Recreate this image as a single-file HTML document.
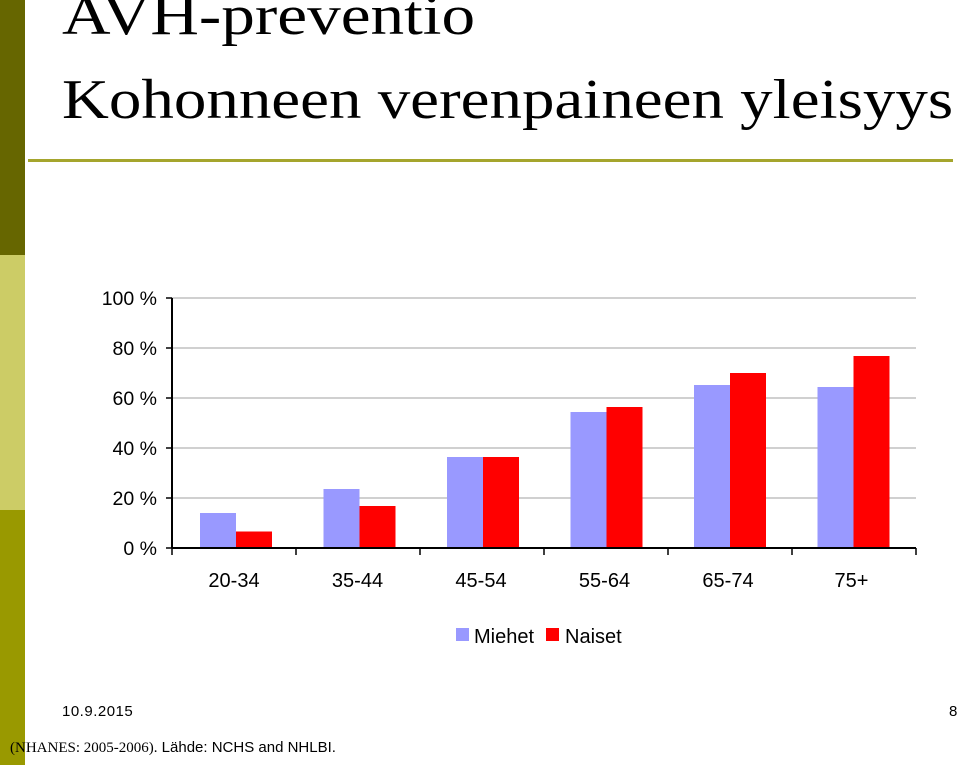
<!DOCTYPE html>
<html><head><meta charset="utf-8"><style>
body{margin:0;width:960px;height:765px;overflow:hidden;background:#fff;position:relative;font-family:"Liberation Sans",sans-serif}
.t{position:absolute;white-space:nowrap}
</style></head><body>
<div style="position:absolute;left:0;top:0;width:25px;height:255px;background:#666600"></div>
<div style="position:absolute;left:0;top:255px;width:25px;height:255px;background:#cccc66"></div>
<div style="position:absolute;left:0;top:510px;width:25px;height:255px;background:#999900"></div>
<div class="t" style="left:62px;top:-16px;font:56px 'Liberation Serif',serif;color:#000;transform:scaleX(1.2);transform-origin:0 0">AVH-preventio</div>
<div class="t" style="left:62px;top:68px;font:56px 'Liberation Serif',serif;color:#000;transform:scaleX(1.16);transform-origin:0 0">Kohonneen verenpaineen yleisyys</div>
<div style="position:absolute;left:28px;top:159px;width:925px;height:3px;background:#a5a52d"></div>
<svg id="chart" width="960" height="765" style="position:absolute;left:0;top:0"></svg>
<div class="t" style="left:62px;top:703px;font-size:15px;letter-spacing:0.5px">10.9.2015</div>
<div class="t" style="left:949px;top:703px;font-size:15px">8</div>
<div class="t" style="left:10px;top:739px;font-size:15px"><span style="font-family:'Liberation Serif',serif">(NHANES: 2005-2006).</span> Lähde: NCHS and NHLBI.</div>
<script>
const categories=["20-34","35-44","45-54","55-64","65-74","75+"];
const miehet=[14,23.6,36.4,54.4,65.2,64.4];
const naiset=[6.6,16.8,36.4,56.4,70,76.8];
const yTicks=[0,20,40,60,80,100];
const svg=document.getElementById('chart');
const NS="http://www.w3.org/2000/svg";
const x0=172,x1=916,y0=548,y1=298;
const cw=(x1-x0)/categories.length;
const y=v=>y0-(v/100)*(y0-y1);
function mk(t,a){const e=document.createElementNS(NS,t);for(const k in a)e.setAttribute(k,a[k]);svg.appendChild(e);return e;}
yTicks.forEach(v=>{
  if(v>0){const g=mk('line',{x1:x0,x2:x1,y1:y(v),y2:y(v),stroke:'#c0c0c0','stroke-width':1.5});
  
  }
  const tk=mk('line',{x1:x0-6,x2:x0,y1:y(v),y2:y(v),stroke:'#000','stroke-width':1.5});
  
  
  const t=mk('text',{x:x0-15,y:y(v)+7,'text-anchor':'end','font-size':19.5,'font-family':'Liberation Sans, sans-serif'});
  t.textContent=v+' %';
  
  
});
categories.forEach((c,i)=>{
  const cx=x0+i*cw;
  const bm=mk('rect',{x:cx+28-i*0.5,y:y(miehet[i]),width:36,height:y0-y(miehet[i]),fill:'#9999ff'});
  
  
  const bn=mk('rect',{x:cx+64-i*0.5,y:y(naiset[i]),width:36,height:y0-y(naiset[i]),fill:'#ff0000'});
  
  
  const t=mk('text',{x:cx+cw/2-i*0.5,y:587,'text-anchor':'middle','font-size':20,'font-family':'Liberation Sans, sans-serif'});
  t.textContent=c;
  
  
});
for(let i=0;i<=categories.length;i++){
  const tk=mk('line',{x1:x0+i*cw,x2:x0+i*cw,y1:y0,y2:y0+7,stroke:'#000','stroke-width':1.5});
  
  
}
const ya=mk('line',{x1:x0,x2:x0,y1:y1,y2:y0,stroke:'#000','stroke-width':2});


const xa=mk('line',{x1:x0,x2:x1,y1:y0,y2:y0,stroke:'#000','stroke-width':2});


const l1=mk('rect',{x:456,y:628,width:13,height:13,fill:'#9999ff'});


const lt1=mk('text',{x:474,y:643,'font-size':20,'font-family':'Liberation Sans, sans-serif'});
lt1.textContent='Miehet';


const l2=mk('rect',{x:546,y:628,width:13,height:13,fill:'#ff0000'});


const lt2=mk('text',{x:565,y:643,'font-size':20,'font-family':'Liberation Sans, sans-serif'});
lt2.textContent='Naiset';


</script>
</body></html>
